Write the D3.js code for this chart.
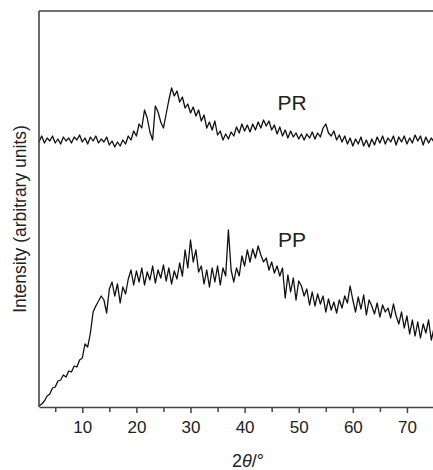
<!DOCTYPE html>
<head>
    <script src="https://d3js.org/d3.v7.min.js"></script>
    <style>
        body { margin: 0; background: white; }
        .chart text { font-family: "Liberation Sans", Arial, sans-serif; fill: #222; }
    </style>
</head>
<body>
    <svg class="chart" width="433" height="470"></svg>
</body>
<script>
    // 2theta sampling (degrees)
    var angles = [
        2, 2.5, 3, 3.5, 4, 4.5, 5, 5.5, 6, 6.5,
        7, 7.5, 8, 8.5, 9, 9.5, 10, 10.5, 11, 11.5,
        12, 12.5, 13, 13.5, 14, 14.5, 15, 15.5, 16, 16.5,
        17, 17.5, 18, 18.5, 19, 19.5, 20, 20.5, 21, 21.5,
        22, 22.5, 23, 23.5, 24, 24.5, 25, 25.5, 26, 26.5,
        27, 27.5, 28, 28.5, 29, 29.5, 30, 30.5, 31, 31.5,
        32, 32.5, 33, 33.5, 34, 34.5, 35, 35.5, 36, 36.5,
        37, 37.5, 38, 38.5, 39, 39.5, 40, 40.5, 41, 41.5,
        42, 42.5, 43, 43.5, 44, 44.5, 45, 45.5, 46, 46.5,
        47, 47.5, 48, 48.5, 49, 49.5, 50, 50.5, 51, 51.5,
        52, 52.5, 53, 53.5, 54, 54.5, 55, 55.5, 56, 56.5,
        57, 57.5, 58, 58.5, 59, 59.5, 60, 60.5, 61, 61.5,
        62, 62.5, 63, 63.5, 64, 64.5, 65, 65.5, 66, 66.5,
        67, 67.5, 68, 68.5, 69, 69.5, 70, 70.5, 71, 71.5,
        72, 72.5, 73, 73.5, 74, 74.5, 75
    ]

    // intensities, arbitrary units (curves are offset vertically)
    var pr = [
        265, 271, 264, 269, 266, 271, 264, 268, 263, 270,
        266, 269, 264, 270, 267, 272, 265, 269, 263, 270,
        266, 271, 264, 268, 265, 270, 262, 266, 260, 265,
        261, 267, 263, 271, 267, 276, 271, 283, 279, 297,
        289, 275, 267, 301, 295, 285, 279, 293, 307, 319,
        311, 316, 305, 310, 299, 303, 294, 300, 291, 297,
        286, 292, 279, 285, 277, 286, 272, 276, 267, 273,
        268, 275, 271, 280, 274, 283, 276, 282, 275, 283,
        277, 285, 279, 287, 281, 286, 277, 282, 273, 280,
        271, 277, 269, 276, 270, 274, 268, 273, 267, 273,
        269, 275, 268, 274, 270, 279, 283, 274, 271, 276,
        267, 272, 265, 271, 263, 269, 261, 268, 263, 270,
        261, 267, 260, 268, 262, 270, 264, 271, 263, 269,
        265, 271, 262, 270, 265, 271, 263, 269, 264, 272,
        266, 271, 262, 270, 264, 269, 265
    ]

    var pp = [
        1, 3, 6, 11, 13, 19, 20, 26, 27, 32,
        30, 36, 35, 41, 40, 47, 49, 63, 60, 74,
        95, 101, 106, 111, 107, 94, 118, 125, 111, 123,
        104, 120, 113, 128, 137, 122, 136, 125, 139, 122,
        135, 127, 141, 124, 137, 129, 142, 126, 139, 123,
        136, 128, 144, 131, 157, 139, 167, 145, 157, 135,
        141, 123, 137, 120, 139, 125, 141, 122, 139, 131,
        177, 137, 125, 139, 131, 151, 141, 157, 145, 158,
        149, 161, 152, 145, 149, 137, 145, 134, 141, 131,
        139, 109, 132, 115, 129, 107, 126, 121, 111, 118,
        102, 115, 101, 113, 103, 111, 95, 108, 97, 105,
        94, 107, 99, 111, 104, 121, 107, 95, 110, 98,
        112, 92, 107, 101, 93, 104, 90, 102, 95, 99,
        89, 103, 91, 83, 95, 79, 91, 73, 87, 71,
        85, 69, 83, 74, 87, 67, 79
    ]

    var xTicks = [10, 20, 30, 40, 50, 60, 70]
    var xMinor = [5, 15, 25, 35, 45, 55, 65]

    var svg = d3.select("svg")
    var mLeft = 39, mTop = 11, mBottom = 407, mRight = 433

    var x = d3.scaleLinear().domain([2, 75]).range([mLeft, mRight + 1])
    var y = d3.scaleLinear().domain([0, 396]).range([mBottom, mTop])

    var line = d3.line()
        .x((d, i) => x(angles[i]))
        .y(d => y(d))

    svg.append("path").datum(pr)
        .attr("d", line)
        .attr("fill", "none").attr("stroke", "#111").attr("stroke-width", 1.3)
        .attr("stroke-linejoin", "round")

    svg.append("path").datum(pp)
        .attr("d", line)
        .attr("fill", "none").attr("stroke", "#111").attr("stroke-width", 1.3)
        .attr("stroke-linejoin", "round")

    // frame: left, top, bottom
    svg.append("line").attr("x1", mLeft).attr("x2", mLeft).attr("y1", mTop).attr("y2", mBottom)
        .attr("stroke", "#444").attr("stroke-width", 1.6)
    svg.append("line").attr("x1", mLeft).attr("x2", mRight).attr("y1", mTop).attr("y2", mTop)
        .attr("stroke", "#444").attr("stroke-width", 1.6)

    var xAxis = svg.append("g")
        .attr("transform", "translate(0," + mBottom + ")")
        .call(d3.axisBottom(x).tickValues(xTicks).tickSize(6).tickSizeOuter(0).tickPadding(8))
    xAxis.select(".domain").attr("stroke", "#444").attr("stroke-width", 1.6)
    xAxis.selectAll(".tick line").attr("stroke", "#444").attr("stroke-width", 1.5)
    xAxis.selectAll("text").attr("font-size", 17).attr("fill", "#222")
        .attr("font-family", "Liberation Sans, Arial, sans-serif")

    var minor = svg.append("g")
        .attr("transform", "translate(0," + mBottom + ")")
        .call(d3.axisBottom(x).tickValues(xMinor).tickSize(5).tickFormat(""))
    minor.select(".domain").remove()
    minor.selectAll(".tick line").attr("stroke", "#444").attr("stroke-width", 1.5)

    // labels
    svg.append("text")
        .attr("transform", "translate(26,219) rotate(-90)")
        .attr("text-anchor", "middle").attr("font-size", 17.5)
        .text("Intensity (arbitrary units)")

    var xl = svg.append("text")
        .attr("x", 248).attr("y", 467)
        .attr("text-anchor", "middle").attr("font-size", 18)
    xl.append("tspan").text("2")
    xl.append("tspan").attr("font-style", "italic").text("θ")
    xl.append("tspan").text("/°")

    svg.append("text").attr("x", 292).attr("y", 110)
        .attr("text-anchor", "middle").attr("font-size", 21).text("PR")
    svg.append("text").attr("x", 292).attr("y", 247)
        .attr("text-anchor", "middle").attr("font-size", 21).text("PP")
</script>
